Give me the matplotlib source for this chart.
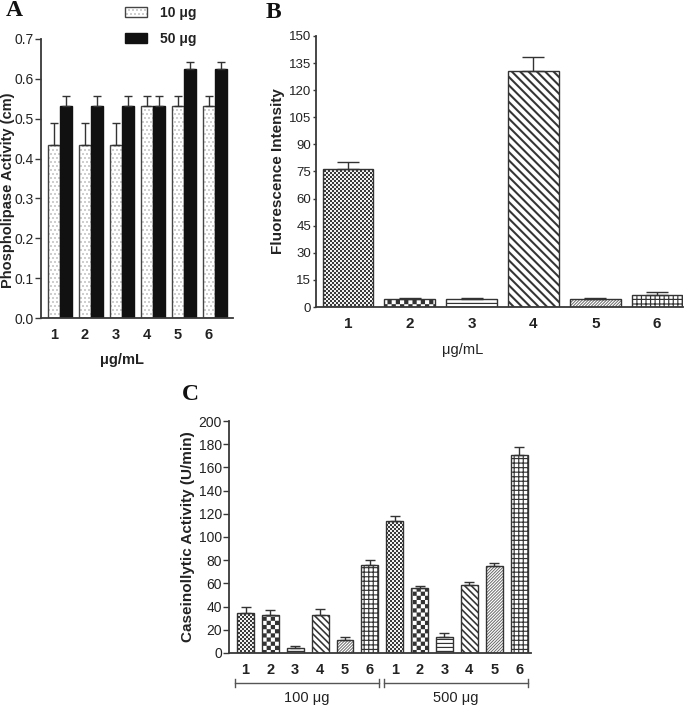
import warnings
warnings.filterwarnings('ignore')
import numpy as np
import matplotlib
matplotlib.use('Agg')
import matplotlib.pyplot as plt
import matplotlib.hatch as mhatch
import matplotlib.transforms as mtrans
from matplotlib.path import Path
from matplotlib.patches import Patch
from matplotlib.colors import to_rgba

# ---------------- data ----------------
a_groups = ['1', '2', '3', '4', '5', '6']
a_series = ['10 μg', '50 μg']
a_10 = [0.435, 0.435, 0.435, 0.533, 0.533, 0.533]
a_10_err = [0.055, 0.055, 0.055, 0.023, 0.023, 0.023]
a_50 = [0.533, 0.533, 0.533, 0.533, 0.625, 0.625]
a_50_err = [0.023, 0.023, 0.023, 0.023, 0.018, 0.018]

b_groups = ['1', '2', '3', '4', '5', '6']
b_vals = [76.5, 4.6, 4.6, 130.6, 4.4, 6.4]
b_err = [4.0, 0.4, 0.6, 7.6, 0.4, 1.9]

c_groups = ['1', '2', '3', '4', '5', '6', '1', '2', '3', '4', '5', '6']
c_doses = ['100 μg', '500 μg']
c_vals = [34.8, 33.1, 4.3, 33.1, 11.5, 75.7, 114.2, 56.1, 13.5, 58.7, 75.1, 170.9]
c_err = [4.9, 4.0, 1.7, 4.6, 2.3, 4.3, 3.5, 2.0, 3.5, 2.3, 2.3, 6.7]

# ---------------- custom hatch patterns ----------------
plt.rcParams['hatch.linewidth'] = 0.05


def _rect(x0, y0, x1, y1):
    return [(x0, y0), (x1, y0), (x1, y1), (x0, y1)]


def pat_checker(n):
    return [_rect(i / n, j / n, (i + 1) / n, (j + 1) / n)
            for i in range(n) for j in range(n) if (i + j) % 2 == 0]


def pat_hlines(n, t):
    return [_rect(-0.01, i / n, 1.01, i / n + t) for i in range(n)]


def pat_vlines(n, t):
    return [_rect(i / n, -0.01, i / n + t, 1.01) for i in range(n)]


def pat_diag(n, w, back=False):
    polys = []
    for k in range(-n - 1, n + 1):
        c = k / n
        p = [(c, 0), (c + w, 0), (c + w + 1, 1), (c + 1, 1)]
        if back:
            p = [(1 - x, y) for x, y in p]
        polys.append(p)
    return polys


def pat_dots(n, s):
    polys = []
    for i in range(n):
        for j in range(n):
            x = (j + 0.5 * (i % 2) + 0.25) / n
            y = (i + 0.5) / n
            polys.append(_rect(x - s / 2, y - s / 2, x + s / 2, y + s / 2))
    return polys


PATTERNS = {
    'a': pat_dots(25, 0.012),
    'b': pat_checker(50),
    'c': pat_checker(24),
    'h': pat_hlines(25, 0.011),
    'd': pat_diag(12, 0.028, back=True),
    'e': pat_diag(15, 0.022, back=True),
    'f': pat_diag(33, 0.011),
    'g': pat_hlines(22, 0.011) + pat_vlines(22, 0.011),
}


class CustomHatch(mhatch.HatchPatternBase):
    def __init__(self, hatch, density):
        self.polys = []
        for ch, polys in PATTERNS.items():
            if ch in hatch:
                self.polys += polys
        self.num_vertices = sum(len(p) + 1 for p in self.polys)

    def set_vertices_and_codes(self, vertices, codes):
        i = 0
        for p in self.polys:
            n = len(p)
            vertices[i:i + n] = p
            vertices[i + n] = p[0]
            codes[i] = Path.MOVETO
            codes[i + 1:i + n] = Path.LINETO
            codes[i + n] = Path.CLOSEPOLY
            i += n + 1


mhatch._hatch_types.append(CustomHatch)

plt.rcParams['font.family'] = ['Liberation Sans', 'DejaVu Sans']
TXT = '#222222'
AX = '#383838'

W, H = 685, 709
fig = plt.figure(figsize=(W / 100, H / 100), dpi=100)


def fx(px):
    return px / W


def fy(py):
    return 1 - py / H


def style_axes(ax, ytick_size, tlen):
    for s in ['top', 'right']:
        ax.spines[s].set_visible(False)
    for s in ['left', 'bottom']:
        ax.spines[s].set_color(AX)
        ax.spines[s].set_linewidth(1.3)
    ax.tick_params(axis='y', length=tlen, width=1, color=AX, labelsize=ytick_size,
                   labelcolor=TXT, pad=1)
    ax.tick_params(axis='x', length=0, pad=7, labelcolor=TXT)


# ---------------- Panel A ----------------
axA = fig.add_axes([fx(41), fy(318), fx(233 - 41), (318 - 39) / H])
xa = np.arange(1, len(a_groups) + 1)
bw = 0.39
b10 = axA.bar(xa, a_10, bw, color='white', edgecolor='#444444', hatch='a',
              linewidth=1, zorder=2)
for p in b10:
    p._hatch_color = to_rgba('#8c8c8c')
b50 = axA.bar(xa + 0.4, a_50, bw, color='#111111', edgecolor='#111111',
              linewidth=1, zorder=2)
axA.errorbar(xa, a_10, yerr=[np.zeros(len(a_10)), a_10_err], fmt='none',
             ecolor='#333333', elinewidth=1, capsize=3, capthick=1, zorder=3)
axA.errorbar(xa + 0.4, a_50, yerr=[np.zeros(len(a_50)), a_50_err], fmt='none',
             ecolor='#333333', elinewidth=1, capsize=3, capthick=1, zorder=3)
axA.set_xlim(0.58, 6.79)
axA.set_ylim(0, 0.7)
axA.set_yticks(np.arange(0, 0.71, 0.1))
axA.set_yticklabels([f'{v:.1f}' for v in np.arange(0, 0.71, 0.1)])
axA.set_xticks(xa)
axA.set_xticklabels(a_groups, fontsize=10.5, fontweight='bold')
style_axes(axA, 10, 4)

handles = [Patch(facecolor='white', edgecolor='#444444', hatch='a', linewidth=1),
           Patch(facecolor='#111111', edgecolor='#111111', linewidth=1)]
handles[0]._hatch_color = to_rgba('#8c8c8c')
fig.legend(handles, a_series, loc='upper left', bbox_to_anchor=(fx(125), fy(6)),
           frameon=False, borderpad=0, borderaxespad=0, handlelength=1.6,
           handleheight=0.65, handletextpad=0.95, labelspacing=0.85,
           prop={'weight': 'bold', 'size': 10}, labelcolor=TXT)

fig.text(fx(8), fy(190), 'Phospholipase Activity (cm)', rotation=90,
         ha='center', va='center', fontsize=10.5, fontweight='bold', color=TXT)
fig.text(fx(122), fy(360), 'μg/mL', ha='center', va='center', fontsize=10.5,
         fontweight='bold', color=TXT)

# ---------------- Panel B ----------------
b_hatches = ['b', 'c', 'h', 'd', 'f', 'g']
axB = fig.add_axes([fx(316), fy(307), fx(683 - 316), (307 - 36) / H])
xb = np.arange(1, len(b_groups) + 1)
barsB = axB.bar(xb, b_vals, 0.82, color='white', edgecolor='#333333',
                linewidth=1, zorder=2)
for p, h in zip(barsB, b_hatches):
    p.set_hatch(h)
barsB[0]._hatch_color = to_rgba('#3a3a3a')
barsB[4]._hatch_color = to_rgba('#555555')
axB.errorbar(xb, b_vals, yerr=[np.zeros(len(b_vals)), b_err], fmt='none',
             ecolor='#333333', elinewidth=1, capsize=8, capthick=1, zorder=3)
axB.set_xlim(0.482, 6.42)
axB.set_ylim(0, 150)
axB.set_yticks(np.arange(0, 151, 15))
axB.set_xticks(xb)
axB.set_xticklabels(b_groups, fontsize=11, fontweight='bold')
style_axes(axB, 9.5, 2.5)
fig.text(fx(278), fy(171), 'Fluorescence Intensity', rotation=90,
         ha='center', va='center', fontsize=11, fontweight='bold', color=TXT)
fig.text(fx(463), fy(350), 'μg/mL', ha='center', va='center', fontsize=10.5,
         color=TXT)

# ---------------- Panel C ----------------
axC = fig.add_axes([fx(229), fy(653), fx(531 - 229), (653 - 421) / H])
xc = np.arange(1, len(c_groups) + 1)
c_hatches = ['b', 'c', 'h', 'e', 'f', 'g'] * 2
barsC = axC.bar(xc, c_vals, 0.68, color='white', edgecolor='#333333',
                linewidth=1, zorder=2)
for i, (p, h) in enumerate(zip(barsC, c_hatches)):
    p.set_hatch(h)
    if h == 'b':
        p._hatch_color = to_rgba('#3a3a3a')
    if h == 'f':
        p._hatch_color = to_rgba('#555555')
axC.errorbar(xc, c_vals, yerr=[np.zeros(len(c_vals)), c_err], fmt='none',
             ecolor='#333333', elinewidth=1, capsize=3.5, capthick=1, zorder=3)
axC.set_xlim(0.336, 12.48)
axC.set_ylim(0, 200)
axC.set_yticks(np.arange(0, 201, 20))
axC.set_xticks(xc)
axC.set_xticklabels(c_groups, fontsize=10.5, fontweight='bold')
style_axes(axC, 10, 4)
fig.text(fx(188), fy(537), 'Caseinollytic Activity (U/min)', rotation=90,
         ha='center', va='center', fontsize=11, fontweight='bold', color=TXT)

trans = mtrans.blended_transform_factory(axC.transData, axC.transAxes)
n_per = 6
yb = -0.129
cap = 0.018
for g, dose in enumerate(c_doses):
    x0 = xc[g * n_per] - 0.42
    x1 = xc[g * n_per + n_per - 1] + 0.35
    axC.plot([x0, x1], [yb, yb], color='#555555', lw=1, transform=trans,
             clip_on=False)
    for xx in (x0, x1):
        axC.plot([xx, xx], [yb - cap, yb + cap], color='#555555', lw=1,
                 transform=trans, clip_on=False)
    axC.text((x0 + x1) / 2, -0.194, dose, transform=trans, ha='center',
             va='center', fontsize=10.5, color=TXT)

# ---------------- panel letters ----------------
for lab, (px, py) in zip(['A', 'B', 'C'], [(14, 11), (273, 12), (190, 394)]):
    fig.text(fx(px), fy(py), lab, ha='center', va='center', fontsize=17,
             fontweight='bold', family='Liberation Serif', color='#111111')

fig.savefig('out.png', dpi=100)
